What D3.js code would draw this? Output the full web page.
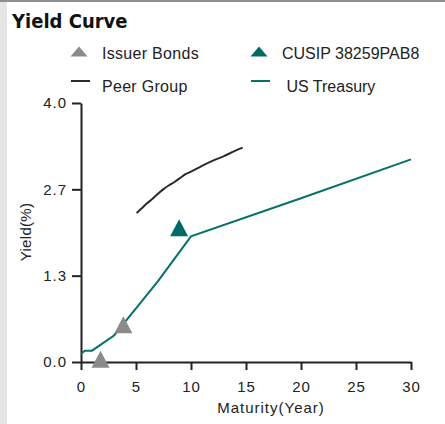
<!DOCTYPE html>
<html>
<head>
<meta charset="utf-8">
<script src="https://cdn.jsdelivr.net/npm/d3@7"></script>
<style>
  body { margin: 0; background: #fff; }
  svg { display: block; }
</style>
</head>
<body>
<div id="chart"></div>
<script>
const w = 445;
const h = 424;

// US Treasury curve
const treasuryMaturity = [0, 0.36, 1, 3, 5, 7, 10, 20, 30];
const treasuryYield = [0.13, 0.175, 0.175, 0.41, 0.83, 1.25, 1.94, 2.53, 3.13];

// peer group curve
const peerMaturity = [5.05, 5.5, 6, 6.5, 7, 7.5, 8, 8.5, 9, 9.5, 10, 11, 12, 13, 14, 14.7];
const peerYield = [2.30, 2.37, 2.45, 2.52, 2.60, 2.67, 2.73, 2.78, 2.84, 2.90, 2.94, 3.03, 3.11, 3.18, 3.26, 3.31];

// points
const issuerMaturity = [1.77, 3.85];
const issuerYield = [0.0, 0.53];
const cusipMaturity = [8.92];
const cusipYield = [2.03];

const yTicks = [0, 4 / 3, 8 / 3, 4];
const xTicks = [0, 5, 10, 15, 20, 25, 30];
const legendLabels = ["Issuer Bonds", "CUSIP 38259PAB8", "Peer Group", " US Treasury"];

const teal = "#06706b";
const tealDark = "#006a65";
const grey = "#8a8a8a";
const dark = "#2a2a2a";
const font = "'Liberation Sans', Arial, sans-serif";

const svg = d3.select("#chart").append("svg")
  .attr("width", w)
  .attr("height", h);

// frame bits
svg.append("rect").attr("x", 0).attr("y", 0).attr("width", w).attr("height", 2).attr("fill", "#8f8f8f");
svg.append("rect").attr("x", 0).attr("y", 2).attr("width", 7).attr("height", h - 2).attr("fill", "#e6e6e6");

svg.append("text")
  .attr("x", 12).attr("y", 28)
  .attr("font-family", "'DejaVu Sans Condensed', 'DejaVu Sans', sans-serif")
  .attr("font-weight", "bold")
  .attr("font-size", 20)
  .attr("fill", "#111")
  .text("Yield Curve");

const xscale = d3.scaleLinear().domain([0, 30]).range([81, 411]);
const yscale = d3.scaleLinear().domain([0, 4]).range([362, 103]);

const xaxis = d3.axisBottom(xscale).tickValues(xTicks).tickSize(8).tickSizeOuter(0).tickPadding(11);
const yaxis = d3.axisLeft(yscale).tickValues(yTicks).tickFormat(d3.format(".1f")).tickSize(9).tickSizeOuter(0).tickPadding(5);

function styleAxis(g) {
  g.attr("font-size", null).attr("font-family", null);
  g.selectAll("path, line").attr("stroke", "#222").attr("stroke-width", 2);
  g.selectAll("text")
    .style("font-family", font).style("font-size", "15px").style("letter-spacing", "1px")
    .attr("fill", "#222");
}

svg.append("g")
  .attr("transform", "translate(0," + yscale(0) + ")")
  .call(xaxis)
  .call(styleAxis);
svg.append("g")
  .attr("transform", "translate(" + xscale(0) + ",0)")
  .call(yaxis)
  .call(styleAxis);

svg.append("text")
  .attr("x", 271).attr("y", 413)
  .attr("text-anchor", "middle")
  .style("font-family", font).style("font-size", "15px").style("letter-spacing", "1px")
  .attr("fill", "#222")
  .text("Maturity(Year)");
svg.append("text")
  .attr("transform", "translate(31,232) rotate(-90)")
  .attr("text-anchor", "middle")
  .style("font-family", font).style("font-size", "15px").style("letter-spacing", "0.3px")
  .attr("fill", "#222")
  .text("Yield(%)");

const line = d3.line().x(d => xscale(d[0])).y(d => yscale(d[1]));

svg.append("path")
  .datum(d3.zip(treasuryMaturity, treasuryYield))
  .attr("d", line)
  .attr("fill", "none").attr("stroke", teal).attr("stroke-width", 2);

svg.append("path")
  .datum(d3.zip(peerMaturity, peerYield))
  .attr("d", line.curve(d3.curveMonotoneX))
  .attr("fill", "none").attr("stroke", dark).attr("stroke-width", 2);

function tri(cx, cy, tw, th) {
  return "M" + cx + "," + (cy - th * 2 / 3) + "L" + (cx + tw / 2) + "," + (cy + th / 3) + "L" + (cx - tw / 2) + "," + (cy + th / 3) + "Z";
}

svg.selectAll(".issuer")
  .data(d3.zip(issuerMaturity, issuerYield))
  .enter().append("path")
  .attr("class", "issuer")
  .attr("d", d => tri(xscale(d[0]), yscale(d[1]), 18, 17))
  .attr("fill", grey);

svg.selectAll(".cusip")
  .data(d3.zip(cusipMaturity, cusipYield))
  .enter().append("path")
  .attr("class", "cusip")
  .attr("d", d => tri(xscale(d[0]), yscale(d[1]), 18, 17))
  .attr("fill", tealDark);

// legend
const leg = svg.append("g").style("font-family", font).style("font-size", "16px").attr("fill", "#222");
leg.append("path").attr("d", "M79,46.5L87.5,56.5L70.5,56.5Z").attr("fill", grey);
leg.append("path").attr("d", "M259,46.5L267.5,56.5L250.5,56.5Z").attr("fill", tealDark);
leg.append("line").attr("x1", 71).attr("x2", 90).attr("y1", 81).attr("y2", 81).attr("stroke", dark).attr("stroke-width", 2);
leg.append("line").attr("x1", 251).attr("x2", 270).attr("y1", 81).attr("y2", 81).attr("stroke", teal).attr("stroke-width", 2);
leg.append("text").attr("x", 102).attr("y", 58.5).style("letter-spacing", "0.3px").text(legendLabels[0]);
leg.append("text").attr("x", 282).attr("y", 58.5).text(legendLabels[1]);
leg.append("text").attr("x", 102).attr("y", 92).style("letter-spacing", "0.3px").text(legendLabels[2]);
leg.append("text").attr("x", 282).attr("y", 92).style("white-space", "pre").text(legendLabels[3]);
</script>
</body>
</html>
